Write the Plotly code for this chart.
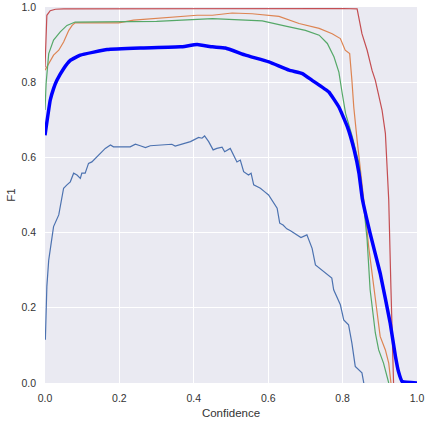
import plotly.graph_objects as go

# Class 1 (thin, seaborn blue)
c1_x = [0.001, 0.005, 0.010, 0.023, 0.037, 0.050, 0.059, 0.068, 0.077, 0.086, 0.095, 0.099, 0.108, 0.117,
        0.126, 0.131, 0.144, 0.153, 0.162, 0.176, 0.184, 0.229, 0.243, 0.256, 0.270, 0.283, 0.341, 0.350,
        0.373, 0.391, 0.413, 0.422, 0.429, 0.440, 0.452, 0.462, 0.476, 0.483, 0.498, 0.516, 0.525, 0.534,
        0.547, 0.554, 0.561, 0.579, 0.590, 0.601, 0.624, 0.631, 0.640, 0.650, 0.660, 0.688, 0.704, 0.718,
        0.727, 0.771, 0.776, 0.794, 0.803, 0.816, 0.825, 0.834, 0.852, 0.857]
c1_y = [0.115, 0.257, 0.327, 0.416, 0.447, 0.518, 0.527, 0.535, 0.558, 0.553, 0.544, 0.558, 0.558, 0.584,
        0.588, 0.593, 0.606, 0.615, 0.624, 0.633, 0.628, 0.628, 0.635, 0.631, 0.626, 0.631, 0.635, 0.630,
        0.637, 0.642, 0.653, 0.651, 0.657, 0.642, 0.620, 0.624, 0.627, 0.615, 0.624, 0.588, 0.593, 0.562,
        0.553, 0.558, 0.527, 0.518, 0.509, 0.500, 0.465, 0.425, 0.420, 0.410, 0.405, 0.387, 0.394, 0.358,
        0.314, 0.279, 0.248, 0.208, 0.168, 0.155, 0.106, 0.044, 0.027, 0.0]

# Class 2 (orange)
c2_x = [0.0, 0.010, 0.023, 0.037, 0.050, 0.064, 0.073, 0.081, 0.198, 0.238, 0.409, 0.45, 0.503, 0.557,
        0.629, 0.683, 0.737, 0.772, 0.794, 0.807, 0.819, 0.825, 0.830, 0.839, 0.848, 0.860, 0.870, 0.888,
        0.894, 0.901, 0.915, 0.924, 0.930]
c2_y = [0.832, 0.850, 0.872, 0.885, 0.907, 0.938, 0.951, 0.958, 0.958, 0.965, 0.978, 0.978, 0.984, 0.982,
        0.975, 0.956, 0.943, 0.929, 0.916, 0.885, 0.876, 0.805, 0.734, 0.646, 0.558, 0.460, 0.363, 0.221,
        0.177, 0.124, 0.088, 0.053, 0.0]

# Class 3 (green)
c3_x = [0.0, 0.003, 0.010, 0.023, 0.041, 0.059, 0.081, 0.30, 0.45, 0.584, 0.647, 0.700, 0.737, 0.759,
        0.777, 0.790, 0.799, 0.808, 0.826, 0.844, 0.856, 0.866, 0.874, 0.888, 0.897, 0.910, 0.924]
c3_y = [0.726, 0.797, 0.876, 0.912, 0.934, 0.951, 0.960, 0.962, 0.969, 0.963, 0.949, 0.938, 0.925, 0.903,
        0.867, 0.827, 0.770, 0.717, 0.655, 0.584, 0.480, 0.380, 0.248, 0.133, 0.088, 0.053, 0.0]

# Class 4 (red)
c4_x = [0.0, 0.005, 0.014, 0.028, 0.05, 0.40, 0.80, 0.839, 0.852, 0.866, 0.879, 0.888, 0.897, 0.906,
        0.915, 0.919, 0.922, 0.924, 0.930, 0.937]
c4_y = [0.84, 0.978, 0.990, 0.994, 0.995, 0.996, 0.996, 0.995, 0.929, 0.885, 0.832, 0.805, 0.761, 0.726,
        0.664, 0.593, 0.522, 0.487, 0.250, 0.0]

# All classes (thick blue)
all_x = [0.0, 0.014, 0.023, 0.032, 0.050, 0.068, 0.095, 0.131, 0.167, 0.256, 0.364, 0.409, 0.45, 0.485,
         0.539, 0.602, 0.656, 0.692, 0.718, 0.763, 0.790, 0.813, 0.831, 0.844, 0.853, 0.874, 0.901, 0.928,
         0.942, 0.950, 0.960, 1.0]
all_y = [0.659, 0.752, 0.783, 0.805, 0.836, 0.858, 0.872, 0.880, 0.887, 0.891, 0.894, 0.900, 0.894, 0.891,
         0.872, 0.854, 0.832, 0.823, 0.805, 0.774, 0.734, 0.681, 0.620, 0.558, 0.490, 0.398, 0.292, 0.159,
         0.071, 0.031, 0.004, 0.0]

tick_vals = [0.0, 0.2, 0.4, 0.6, 0.8, 1.0]
tick_text = ["0.0", "0.2", "0.4", "0.6", "0.8", "1.0"]

fig = go.Figure()
series = [
    (c1_x, c1_y, "#4C72B0", 1.2),
    (c2_x, c2_y, "#DD8452", 1.2),
    (c3_x, c3_y, "#55A868", 1.2),
    (c4_x, c4_y, "#C44E52", 1.2),
    (all_x, all_y, "#0000FF", 3.5),
]
for xs, ys, col, w in series:
    line = dict(color=col, width=w)
    if w > 2:
        line.update(shape="spline", smoothing=0.3)
    fig.add_trace(go.Scatter(x=xs, y=ys, mode="lines", line=line, showlegend=False))

axis_common = dict(
    range=[0, 1], tickvals=tick_vals, ticktext=tick_text, showgrid=True, gridcolor="white", gridwidth=1,
    zeroline=False, showline=False, ticks="", automargin=False,
    tickfont=dict(family="Liberation Sans, Arial", size=10.5, color="#333333"),
    title_font=dict(family="Liberation Sans, Arial", size=11.5, color="#333333"),
)
fig.update_xaxes(title_text="Confidence", title_standoff=6, ticklabelstandoff=7, **axis_common)
fig.update_yaxes(title_text="F1", title_standoff=3, ticklabelstandoff=8, **axis_common)
fig.update_layout(
    width=425, height=428, margin=dict(l=45, r=8, t=7, b=45),
    plot_bgcolor="#EAEAF2", paper_bgcolor="white",
)
fig.write_html("out.html")
